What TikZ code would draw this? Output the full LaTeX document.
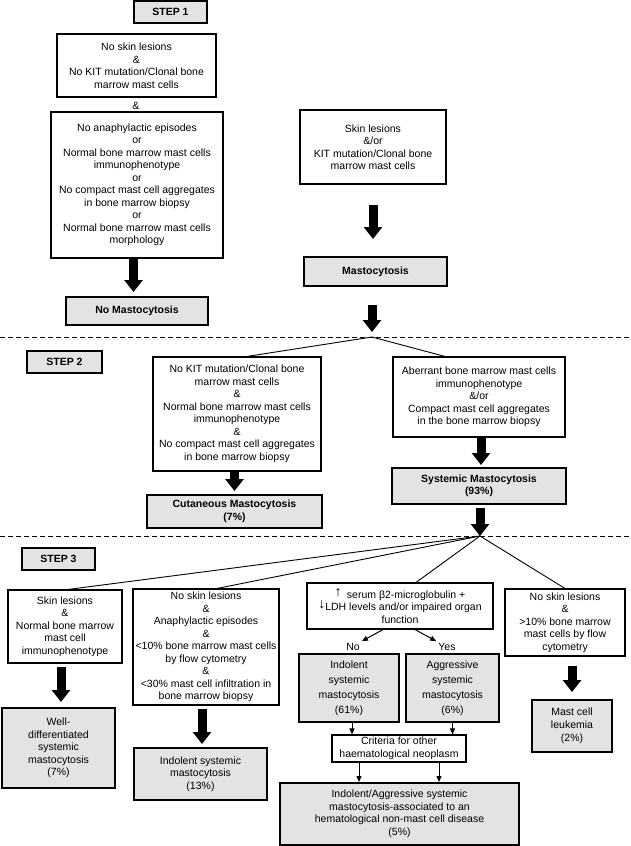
\documentclass[tikz,border=0pt]{standalone}
\usepackage{fontspec}
\setmainfont{Liberation Sans}
\usetikzlibrary{arrows.meta}

\begin{document}
\begin{tikzpicture}[x=1pt,y=-1pt,
    every node/.style={font=\fontsize{10.5}{12.5}\selectfont, align=center, inner sep=0pt},
    size/.style 2 args={minimum width=#1pt, minimum height=#2pt},
    box/.style={draw, line width=1.1pt, fill=white},
    result/.style={draw, line width=2pt, fill=gray!22},
    stepbox/.style={result, font=\fontsize{10.5}{12.5}\selectfont\bfseries},
    bigarrow/.style={line width=9pt, -{Triangle[length=12pt,width=18pt]}},
    smallarrow/.style={line width=1pt, -{Triangle[length=6pt,width=5pt]}},
    branch/.style={line width=0.9pt}]
  \useasboundingbox (0,0) rectangle (630,846);
  \foreach \y in {337,536}
    \draw[line width=1pt, dash pattern=on 5pt off 3pt] (0,\y) -- (630,\y);

  % step 1
  \node[stepbox, size={73}{22}] (step1) at (170.5,12) {STEP 1};
  \node[box, size={159}{63}] (noskin) at (136.5,65.5)
    {No skin lesions\\\&\\No KIT mutation/Clonal bone\\marrow mast cells};
  \node (and1) at (136,106) {\&};
  \node[box, size={172}{146}] (nocrit) at (137,185)
    {No anaphylactic episodes\\or\\Normal bone marrow mast cells\\immunophenotype\\or\\
     No compact mast cell aggregates\\in bone marrow biopsy\\or\\Normal bone marrow mast cells\\morphology};
  \node[stepbox, size={142}{28}] (nomast) at (137,311) {No Mastocytosis};
  \node[box, size={146}{74}] (skin) at (373,147)
    {Skin lesions\\\&/or\\KIT mutation/Clonal bone\\marrow mast cells};
  \node[stepbox, size={143}{29}] (mast) at (375.5,271.5) {Mastocytosis};
  \coordinate (split1) at (372,337);
  \draw[bigarrow, shorten >=4pt] ([xshift=-3.5pt]nocrit.south) -- ([xshift=-3.5pt]nocrit.south |- nomast.north);
  \draw[bigarrow, shorten <=20pt, shorten >=17pt] (skin.south) -- (skin.south |- mast.north);
  \draw[bigarrow, shorten <=18pt, shorten >=5pt] (mast.south -| split1) -- (split1);

  % step 2
  \node[stepbox, size={75}{22}] (step2) at (64.5,362) {STEP 2};
  \node[box, size={168}{114}] (cutcrit) at (237,414)
    {No KIT mutation/Clonal bone\\marrow mast cells\\\&\\Normal bone marrow mast cells\\
     immunophenotype\\\&\\No compact mast cell aggregates\\in bone marrow biopsy};
  \node[stepbox, size={175}{33}] (cut) at (234.5,511.5) {Cutaneous Mastocytosis\\(7\%)};
  \node[box, size={172}{80}] (syscrit) at (479,397)
    {Aberrant bone marrow mast cells\\immunophenotype\\\&/or\\Compact mast cell aggregates\\
     in the bone marrow biopsy};
  \node[stepbox, size={174}{36}] (sys) at (479,486) {Systemic Mastocytosis\\(93\%)};
  \coordinate (split2) at (480,536);
  \draw[branch] (split1) -- ([xshift=10pt]cutcrit.north);
  \draw[branch] (split1) -- ([xshift=-34pt]syscrit.north);
  \draw[bigarrow, shorten >=3pt] ([xshift=-2.5pt]cutcrit.south) -- ([xshift=-2.5pt]cutcrit.south |- cut.north);
  \draw[bigarrow, shorten >=2pt] ([xshift=2pt]syscrit.south) -- ([xshift=2pt]syscrit.south |- sys.north);
  \draw[bigarrow, shorten <=3pt] (sys.south -| split2) -- (split2);

  % step 3
  \node[stepbox, size={73}{22}] (step3) at (58.5,559) {STEP 3};
  \node[box, size={114}{73}] (wdcrit) at (65,626.5)
    {Skin lesions\\\&\\Normal bone marrow\\mast cell\\immunophenotype};
  \node[result, size={113}{80}] (wdsm) at (58.5,748)
    {Well-\\differentiated\\systemic\\mastocytosis\\(7\%)};
  \node[box, size={146}{116}] (iscrit) at (206,647)
    {No skin lesions\\\&\\Anaphylactic episodes\\\&\\<10\% bone marrow mast cells\\by flow cytometry\\
     \&\\<30\% mast cell infiltration in\\bone marrow biopsy};
  \node[result, size={133}{52}] (ism) at (200.5,774) {Indolent systemic\\mastocytosis\\(13\%)};
  \node[box, size={186}{46}] (organ) at (400,606)
    {\raisebox{1.5pt}{\fontsize{14}{14}\selectfont ↑}\enspace serum β2-microglobulin +\\
     \raisebox{2pt}{\fontsize{14}{14}\selectfont ↓}LDH levels and/or impaired organ\\function};
  \node[inner sep=2pt] (no) at (353,647) {No};
  \node[inner sep=2pt] (yes) at (447,647) {Yes};
  \node[result, size={100}{68}, font=\fontsize{10.5}{15}\selectfont] (ism61) at (349,688)
    {Indolent\\systemic\\mastocytosis\\(61\%)};
  \node[result, size={93}{68}, font=\fontsize{10.5}{15}\selectfont] (asm) at (452.5,688)
    {Aggressive\\systemic\\mastocytosis\\(6\%)};
  \node[box, size={134}{27}] (other) at (399,748.5) {Criteria for other\\haematological neoplasm};
  \node[result, size={239}{62}] (ahn) at (399.5,814)
    {Indolent/Aggressive systemic\\mastocytosis-associated to an\\hematological non-mast cell disease\\(5\%)};
  \node[box, size={120}{67}] (mclcrit) at (565,622.5)
    {No skin lesions\\\&\\>10\% bone marrow\\mast cells by flow\\cytometry};
  \node[result, size={80}{52}, font=\fontsize{10.5}{13}\selectfont] (mcl) at (572,726) {Mast cell\\leukemia\\(2\%)};
  \draw[branch] (split2) -- ([xshift=3pt]wdcrit.north);
  \draw[branch] (split2) -- ([xshift=11pt]iscrit.north);
  \draw[branch] (split2) -- ([xshift=16pt]organ.north);
  \draw[branch] (split2) -- (mclcrit.north);
  \draw[bigarrow, shorten <=3pt, shorten >=5pt] ([xshift=-4pt]wdcrit.south) -- ([xshift=-4pt]wdcrit.south |- wdsm.north);
  \draw[bigarrow, shorten <=3pt, shorten >=3pt] ([xshift=-4pt]iscrit.south) -- ([xshift=-4pt]iscrit.south |- ism.north);
  \draw[bigarrow, shorten <=9pt, shorten >=7pt] ([xshift=7pt]mclcrit.south) -- ([xshift=7pt]mclcrit.south |- mcl.north);
  \draw[smallarrow] ([xshift=-17pt]organ.south) -- (no.north east);
  \draw[smallarrow] ([xshift=15pt]organ.south) -- (yes.north west);
  \draw[smallarrow] ([xshift=3pt]ism61.south) -- ([xshift=3pt]ism61.south |- other.north);
  \draw[smallarrow] (asm.south) -- (asm.south |- other.north);
  \draw[smallarrow] ([xshift=-40pt]other.south) -- ([xshift=-40pt]other.south |- ahn.north);
  \draw[smallarrow] ([xshift=40pt]other.south) -- ([xshift=40pt]other.south |- ahn.north);
\end{tikzpicture}
\end{document}
